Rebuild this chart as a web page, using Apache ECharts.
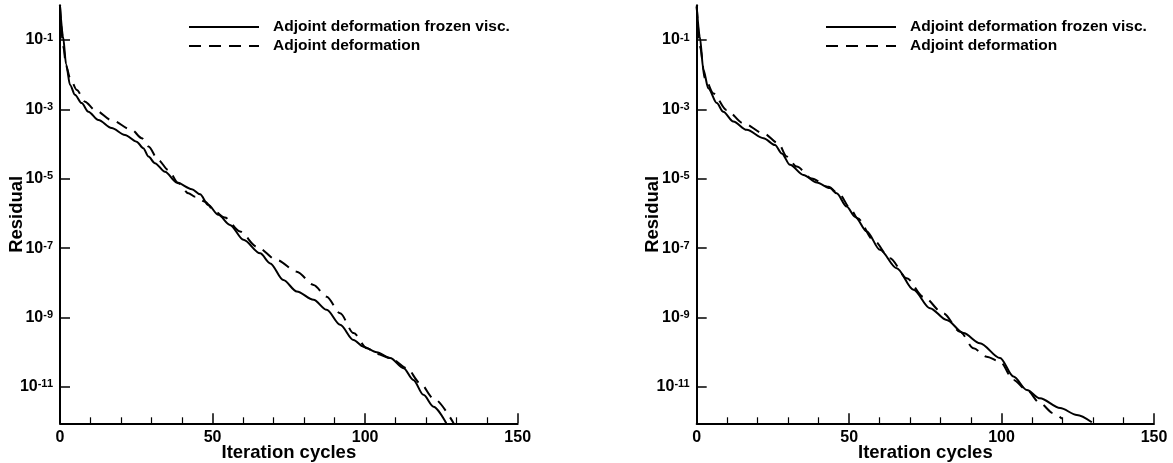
<!DOCTYPE html>
<html>
<head>
<meta charset="utf-8">
<script src="https://cdn.jsdelivr.net/npm/echarts@6/dist/echarts.min.js"></script>
<style>
html,body{margin:0;padding:0;background:#fff;}
#c{width:1173px;height:463px;}
</style>
</head>
<body>
<div id="c"></div>
<script>
// Values. Residuals are stored as log10(residual).
const seriesNames = ['Adjoint deformation frozen visc.', 'Adjoint deformation'];
const yTickExponents = [-11, -9, -7, -5, -3, -1];

const leftSolidX = [0, 1, 2, 3.3, 4.9, 7.1, 9.3, 12.6, 16.9, 21.3, 25.1, 27.3, 29, 31.1, 34.4, 38.3, 43.2, 45.9, 48.6, 51.9, 55.7, 60.1, 65.6, 68.9, 73.2, 77.6, 83.1, 87.4, 91.8, 96.2, 99.4, 103.8, 108.2, 112.6, 115.8, 119.1, 122.4, 126.6];
const leftSolidLog = [-0.03, -0.9, -1.7, -2.30, -2.58, -2.82, -3.07, -3.31, -3.54, -3.74, -3.93, -4.12, -4.36, -4.55, -4.80, -5.11, -5.30, -5.45, -5.76, -6.04, -6.33, -6.76, -7.15, -7.44, -7.92, -8.25, -8.49, -8.78, -9.21, -9.65, -9.84, -10.0, -10.17, -10.46, -10.80, -11.23, -11.57, -12.05];

const leftDashX = [0, 1.1, 2, 3.3, 5.5, 8.2, 11.5, 16.9, 23.5, 26.8, 29, 32.2, 35.5, 38.8, 42.1, 44.3, 47.5, 50.8, 54, 59, 64.5, 71, 77.6, 83.1, 87.4, 91.8, 96.2, 100.6, 104, 108.2, 113.7, 118, 122.4, 129];
const leftDashLog = [-0.03, -1.2, -1.75, -2.10, -2.44, -2.78, -3.02, -3.31, -3.59, -3.83, -4.07, -4.46, -4.75, -5.13, -5.42, -5.52, -5.66, -5.95, -6.12, -6.52, -6.96, -7.34, -7.68, -8.06, -8.40, -8.88, -9.45, -9.89, -10.05, -10.17, -10.46, -10.89, -11.33, -12.05];

const rightSolidX = [0, 1, 2.2, 3.8, 6.6, 8.7, 12, 16.4, 21.9, 25.7, 27.9, 30.6, 35, 39.4, 43.7, 45.9, 49.2, 52, 55.8, 60.1, 65.6, 71.1, 76.5, 82, 87.5, 92.9, 99.5, 103.9, 108.3, 112.6, 119.2, 124.7, 129.6];
const rightSolidLog = [-0.03, -0.9, -1.86, -2.39, -2.82, -3.07, -3.35, -3.59, -3.83, -4.03, -4.27, -4.60, -4.89, -5.11, -5.27, -5.42, -5.80, -6.10, -6.52, -7.05, -7.58, -8.20, -8.73, -9.07, -9.45, -9.74, -10.17, -10.70, -11.09, -11.33, -11.61, -11.81, -12.02];

const rightDashX = [0, 1.1, 2.7, 5.5, 9.8, 15.3, 21.9, 26.8, 29.5, 32.8, 37.7, 43.2, 47, 50.3, 52.8, 57.9, 63.4, 68.9, 74.3, 80.9, 86.4, 90.8, 95.1, 99.5, 103.9, 108.3, 112.6, 117, 119.8];
const rightDashLog = [-0.03, -1.2, -2.10, -2.54, -3.02, -3.40, -3.69, -3.98, -4.36, -4.65, -4.99, -5.23, -5.47, -5.85, -6.14, -6.76, -7.29, -7.87, -8.40, -8.88, -9.41, -9.89, -10.13, -10.27, -10.80, -11.09, -11.47, -11.76, -11.92];

const FONT = '"Liberation Sans", Arial, Helvetica, sans-serif';

function pairs(xs, ys) { return xs.map((x, i) => [x, ys[i]]); }

function xAxisCfg(gi) {
  return {
    gridIndex: gi, type: 'value', min: 0, max: 150, interval: 50,
    name: 'Iteration cycles', nameLocation: 'middle', nameGap: 20, nameMoveOverlap: false,
    nameTextStyle: { fontFamily: FONT, fontWeight: 'bold', fontSize: 18.5, color: '#000' },
    axisLine: { show: true, onZero: false, lineStyle: { color: '#000', width: 2 } },
    axisTick: { show: true, inside: true, length: 10, lineStyle: { color: '#000', width: 1.5 } },
    minorTick: { show: true, splitNumber: 5, length: 6, lineStyle: { color: '#000', width: 1.2 } },
    splitLine: { show: false }, minorSplitLine: { show: false },
    axisLabel: { margin: 6, fontFamily: FONT, fontWeight: 'bold', fontSize: 16, color: '#000' }
  };
}
function yAxisCfg(gi) {
  return {
    gridIndex: gi, type: 'value', min: -12.05, max: 0,
    name: 'Residual', nameLocation: 'middle', nameGap: 34, nameRotate: 90, nameMoveOverlap: false,
    nameTextStyle: { fontFamily: FONT, fontWeight: 'bold', fontSize: 18.5, color: '#000' },
    axisLine: { show: true, onZero: false, lineStyle: { color: '#000', width: 2 } },
    axisTick: { show: true, inside: true, length: 10, customValues: yTickExponents, lineStyle: { color: '#000', width: 1.5 } },
    splitLine: { show: false },
    axisLabel: {
      margin: 7, customValues: yTickExponents,
      formatter: v => '{b|10}{s|' + v + '}',
      rich: {
        b: { fontFamily: FONT, fontWeight: 'bold', fontSize: 16, color: '#000', verticalAlign: 'bottom' },
        s: { fontFamily: FONT, fontWeight: 'bold', fontSize: 11, color: '#000', verticalAlign: 'top' }
      }
    }
  };
}
function lineSeries(name, xi, xs, ys, dashed) {
  return {
    name: name, type: 'line', xAxisIndex: xi, yAxisIndex: xi,
    data: pairs(xs, ys), showSymbol: false, symbol: 'none', smooth: 0.3, smoothMonotone: 'x',
    clip: true, animation: false,
    lineStyle: { color: '#000', width: 2, type: dashed ? [12, 8] : 'solid' },
    itemStyle: { color: '#000' }
  };
}
function legendCfg(left) {
  return {
    orient: 'vertical', left: left, top: 17.5, padding: 0, itemGap: 0,
    itemWidth: 70, itemHeight: 14,
    itemStyle: { color: '#000', opacity: 0, borderWidth: 0 },
    lineStyle: { opacity: 1 },
    textStyle: { fontFamily: FONT, fontWeight: 'bold', fontSize: 15.5, color: '#000', lineHeight: 19, padding: [0, 0, 0, 9] },
    data: seriesNames, selectedMode: false
  };
}

const chart = echarts.init(document.getElementById('c'), null, { renderer: 'canvas' });
chart.setOption({
  animation: false,
  backgroundColor: '#fff',
  grid: [
    { left: 60, top: 5.3, width: 457.7, height: 418, outerBoundsMode: 'none', containLabel: false },
    { left: 696.7, top: 5.3, width: 457.3, height: 418, outerBoundsMode: 'none', containLabel: false }
  ],
  xAxis: [xAxisCfg(0), xAxisCfg(1)],
  yAxis: [yAxisCfg(0), yAxisCfg(1)],
  legend: [legendCfg(188), legendCfg(825)],
  series: [
    lineSeries(seriesNames[0], 0, leftSolidX, leftSolidLog, false),
    lineSeries(seriesNames[1], 0, leftDashX, leftDashLog, true),
    lineSeries(seriesNames[0], 1, rightSolidX, rightSolidLog, false),
    lineSeries(seriesNames[1], 1, rightDashX, rightDashLog, true)
  ]
});
</script>
</body>
</html>
